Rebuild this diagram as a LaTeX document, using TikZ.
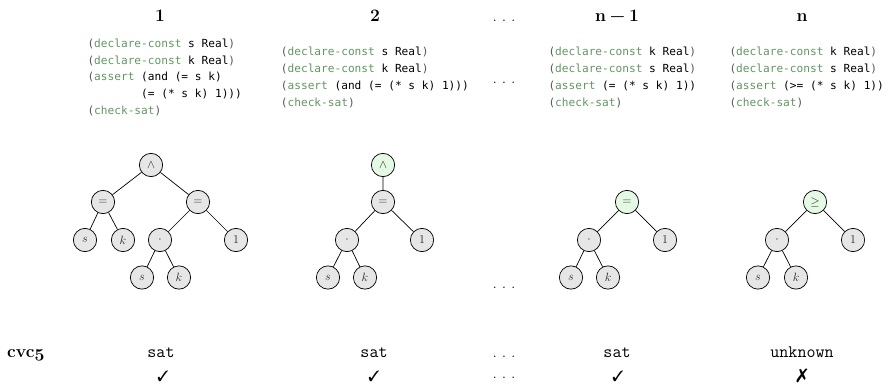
\documentclass[tikz,border=0pt]{standalone}
\usepackage{fontspec}
\usepackage{pifont}
\newfontfamily\codefont{DejaVu Sans Mono}[WordSpace={1,0,0}]
\definecolor{kwgreen}{RGB}{98,150,98}
\definecolor{pgray}{RGB}{85,85,85}
\definecolor{nodegray}{RGB}{230,230,230}
\definecolor{nodegreen}{RGB}{228,250,228}
\definecolor{nodetext}{RGB}{40,40,40}
\newcommand\kw[1]{\textcolor{kwgreen}{#1}}
\newcommand\lp{\textcolor{pgray}{(}}
\newcommand\rp{\textcolor{pgray}{)}}
\newcommand\sdots{.\hspace{0.28em}.\hspace{0.28em}.}
\begin{document}
\begin{tikzpicture}[x=1pt,y=-1pt,
  codeline/.style={anchor=base west,inner sep=0pt,font=\codefont\fontsize{11.15}{13}\selectfont},
  head/.style={anchor=base,inner sep=0pt,font=\fontsize{17.5}{21}\selectfont\bfseries},
  res/.style={anchor=base,inner sep=0pt,font=\fontsize{17.5}{21}\selectfont\ttfamily},
  tick/.style={anchor=base,inner sep=0pt,font=\fontsize{15}{18}\selectfont},
  dotsx/.style={anchor=base,inner sep=0pt,font=\fontsize{17.5}{21}\selectfont},
  tn/.style={circle,draw=black,line width=0.7pt,fill=nodegray,text=nodetext,minimum size=23.3pt,inner sep=0pt,font=\fontsize{12.5}{14}\selectfont},
  tg/.style={tn,fill=nodegreen},
  edge/.style={line width=0.7pt}]
\useasboundingbox (0,0) rectangle (890,390);

% headers
\node[head] (h1) at (160,21.5) {1};
\node[head] (h2) at (375,21.5) {2};
\node[dotsx] (hd) at (504,21.5) {\sdots};
\node[head] (h3) at (617,21.5) {n\hspace{0.22em}−\hspace{0.22em}1};
\node[head] (h4) at (802,21.5) {n};

% code column 1
\node[codeline] (c11) at (87.3,47.5) {\lp\kw{declare-const} s Real\rp};
\node[codeline] (c12) at (87.3,64.5) {\lp\kw{declare-const} k Real\rp};
\node[codeline] (c13) at (87.3,81) {\lp\kw{assert} (and (= s k)};
\node[codeline] (c14) at (141,98) {(= (* s k) 1)))};
\node[codeline] (c15) at (87.3,114.5) {\lp\kw{check-sat}\rp};

% code column 2
\node[codeline] (c21) at (280.7,55.8) {\lp\kw{declare-const} s Real\rp};
\node[codeline] (c22) at (280.7,72.8) {\lp\kw{declare-const} k Real\rp};
\node[codeline] (c23) at (280.7,89.5) {\lp\kw{assert} (and (= (* s k) 1)))};
\node[codeline] (c24) at (280.7,106.2) {\lp\kw{check-sat}\rp};

\node[dotsx] (md) at (504,84) {\sdots};

% code column n-1
\node[codeline] (c31) at (548.3,55.8) {\lp\kw{declare-const} k Real\rp};
\node[codeline] (c32) at (548.3,72.8) {\lp\kw{declare-const} s Real\rp};
\node[codeline] (c33) at (548.3,89.5) {\lp\kw{assert} (= (* s k) 1))};
\node[codeline] (c34) at (548.3,106.2) {\lp\kw{check-sat}\rp};

% code column n
\node[codeline] (c41) at (729.3,55.8) {\lp\kw{declare-const} k Real\rp};
\node[codeline] (c42) at (729.3,72.8) {\lp\kw{declare-const} s Real\rp};
\node[codeline] (c43) at (729.3,89.5) {\lp\kw{assert} (>= (* s k) 1))};
\node[codeline] (c44) at (729.3,106.2) {\lp\kw{check-sat}\rp};

% tree 1
\node[tn] (a1) at (151,165) {$\wedge$};
\node[tn] (a1l) at (103,202) {$=$};
\node[tn] (a1r) at (198,202) {$=$};
\node[tn] (a1s) at (85,240) {$s$};
\node[tn] (a1k) at (123,240) {$k$};
\node[tn] (a1m) at (160,240) {$\cdot$};
\node[tn] (a1o) at (236,240) {$1$};
\node[tn] (a1ms) at (142,277.5) {$s$};
\node[tn] (a1mk) at (179,277.5) {$k$};
\draw[edge] (a1) -- (a1l) (a1) -- (a1r) (a1l) -- (a1s) (a1l) -- (a1k)
  (a1r) -- (a1m) (a1r) -- (a1o) (a1m) -- (a1ms) (a1m) -- (a1mk);

% tree 2
\node[tg] (b1) at (383,165) {$\wedge$};
\node[tn] (b1e) at (383,202) {$=$};
\node[tn] (b1m) at (347,240) {$\cdot$};
\node[tn] (b1o) at (422,240) {$1$};
\node[tn] (b1s) at (328,277.5) {$s$};
\node[tn] (b1k) at (365,277.5) {$k$};
\draw[edge] (b1) -- (b1e) (b1e) -- (b1m) (b1e) -- (b1o) (b1m) -- (b1s) (b1m) -- (b1k);

\node[dotsx] (td) at (504,288) {\sdots};

% tree n-1
\node[tg] (c1e) at (627,202) {$=$};
\node[tn] (c1m) at (589,240) {$\cdot$};
\node[tn] (c1o) at (665,240) {$1$};
\node[tn] (c1s) at (571,277.5) {$s$};
\node[tn] (c1k) at (608,277.5) {$k$};
\draw[edge] (c1e) -- (c1m) (c1e) -- (c1o) (c1m) -- (c1s) (c1m) -- (c1k);

% tree n
\node[tg] (d1e) at (815,202) {$\geq$};
\node[tn] (d1m) at (777,240) {$\cdot$};
\node[tn] (d1o) at (853,240) {$1$};
\node[tn] (d1s) at (758,277.5) {$s$};
\node[tn] (d1k) at (796,277.5) {$k$};
\draw[edge] (d1e) -- (d1m) (d1e) -- (d1o) (d1m) -- (d1s) (d1m) -- (d1k);

% results
\node[anchor=base west,inner sep=0pt,font=\fontsize{17.5}{21}\selectfont\bfseries] (cvc) at (7,357.5) {cvc{\usefont{OML}{cmm}{b}{it}5}};
\node[res] (r1) at (161,357.5) {sat};
\node[res] (r2) at (374,357.5) {sat};
\node[dotsx] (rd) at (504,357.5) {\sdots};
\node[res] (r3) at (617,357.5) {sat};
\node[res] (r4) at (802,357.5) {unknown};

\node[tick] (k1) at (163,381) {\ding{51}};
\node[tick] (k2) at (374,381) {\ding{51}};
\node[dotsx] (kd) at (504,378) {\sdots};
\node[tick] (k3) at (618,381) {\ding{51}};
\node[tick,font=\fontsize{19}{22}\selectfont] (k4) at (802,381) {\ding{55}};
\end{tikzpicture}
\end{document}
